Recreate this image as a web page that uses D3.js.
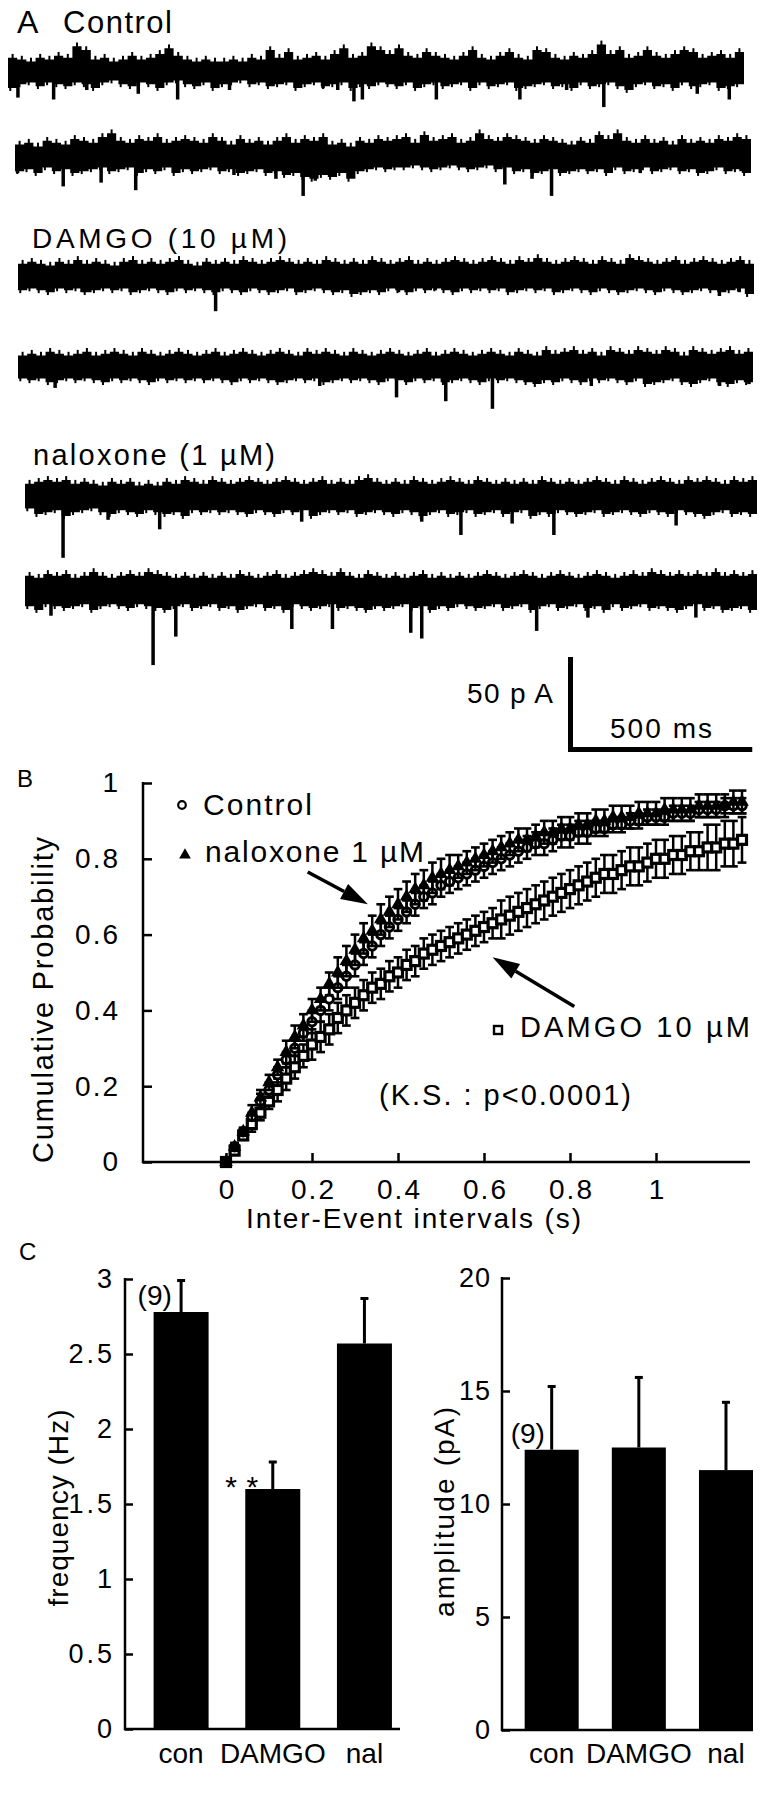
<!DOCTYPE html>
<html><head><meta charset="utf-8">
<script src="https://cdn.jsdelivr.net/npm/d3@7"></script>
<style>
body{margin:0;background:#fff}
svg{display:block}
text{font-family:"Liberation Sans",Arial,Helvetica,sans-serif;fill:#000}
</style>
</head><body>
<svg id="fig" width="769" height="1800"></svg>
<script>
// ---------------- DATA ----------------
// Panel A: sEPSC traces (2 s sweeps). Noise envelopes in pA (above / below baseline), events [ms, pA]
const traceDurationMs = 2000;
const ctl1Up   = [7,6,5,7,6,8,7,13,11,6, 7,5,6,8,6,7,9,12,8,6, 5,6,5,5,6,5,7,6,11,7, 10,6,7,8,6,9,12,7,8,13, 11,9,12,8,7,10,8,7,6,8, 11,7,6,8,10,7,6,11,10,7, 6,8,7,9,14,9,11,7,8,11, 8,7,9,11,10,7,8,9,7,10];
const ctl1Down = [9,7,6,8,6,7,8,6,7,9, 6,5,7,8,6,7,9,6,5,7, 8,6,9,7,6,5,7,6,8,7, 6,9,7,6,8,7,6,9,7,8, 6,7,8,6,9,7,6,8,7,6, 9,6,8,7,6,9,8,7,6,8, 7,9,6,8,7,6,8,10,7,6, 8,7,9,6,8,7,6,9,8,7];
const ctl1Events = [[27,14],[124,15],[214,10],[354,12],[461,15],[569,9],[602,10],[856,9],[896,10],[940,16],[963,15],[1164,15],[1391,15],[1518,10],[1619,19],[1873,12],[1960,15]];

const ctl2Up   = [6,7,5,8,7,6,9,8,7,10, 12,8,7,9,8,10,7,8,9,8, 7,10,8,6,9,7,8,6,8,10, 7,9,8,10,6,7,5,8,7,9, 8,9,10,7,11,8,9,10,7,8, 12,9,8,10,9,8,7,9,8,7, 6,8,7,11,9,12,8,7,9,7, 8,6,9,7,8,7,9,8,10,9];
const ctl2Down = [8,7,9,6,8,7,9,8,7,6, 8,7,6,9,7,8,6,9,7,8, 7,6,8,7,9,8,7,9,8,10, 9,11,12,10,11,9,12,8,7,6, 7,6,6,5,6,7,6,5,6,7, 6,5,7,6,8,7,9,8,7,9, 8,7,8,7,9,6,8,7,6,8, 7,6,8,7,9,8,6,8,7,9];
const ctl2Events = [[7,9],[131,16],[234,14],[328,18],[595,10],[709,12],[783,21],[816,13],[910,10],[1331,15],[1405,12],[1458,21],[1699,9],[1973,8]];

const dam1Up   = [7,8,7,6,8,7,9,7,8,7, 6,8,9,7,8,7,8,9,7,6, 8,7,8,7,9,8,7,8,9,8, 7,8,7,9,8,7,8,7,9,8, 7,8,9,7,8,7,8,9,8,7, 8,9,8,7,9,8,10,8,7,8, 9,8,7,9,8,7,10,9,8,7, 8,9,7,8,9,8,7,8,9,7];
const dam1Down = [7,6,7,8,6,7,6,8,7,6, 7,6,8,7,6,7,8,6,7,6, 7,8,6,7,8,6,7,8,7,6, 8,7,6,7,8,7,9,8,7,8, 6,7,8,6,7,6,7,8,6,7, 6,7,6,8,7,6,7,6,8,7, 6,7,8,6,7,8,7,6,7,8, 6,7,8,7,6,7,8,7,6,9];
const dam1Events = [[174,8],[537,18],[1034,8],[1134,7],[1906,10],[1960,8]];

const dam2Up   = [6,7,6,8,7,6,7,8,6,7, 8,7,6,8,7,6,7,8,7,6, 7,8,6,7,8,7,6,7,8,7, 6,8,7,8,7,6,8,7,6,7, 8,7,6,7,8,6,7,8,7,6, 7,8,7,6,8,7,6,9,7,8, 9,7,8,6,9,8,7,9,8,7, 9,8,6,9,8,7,8,9,7,8];
const dam2Down = [6,7,6,8,7,6,7,6,7,8, 6,7,6,7,8,6,7,6,7,6, 7,6,7,8,6,7,6,7,8,7, 6,7,6,8,7,6,7,6,7,8, 6,7,8,6,7,6,8,7,6,7, 8,6,7,6,7,8,9,7,8,6, 7,8,6,7,6,7,8,6,9,8, 7,6,8,9,7,6,8,9,7,8];
const dam2Events = [[101,11],[821,10],[1030,16],[1164,18],[1291,22],[1560,10],[1909,10],[1989,9]];

const nal1Up   = [7,8,9,8,9,7,8,7,6,8, 7,8,6,7,6,8,7,9,8,7, 9,8,7,8,9,8,7,8,9,8, 7,8,9,7,8,7,9,10,8,7, 8,7,9,8,7,8,9,8,7,9, 8,7,8,7,8,7,9,8,7,8, 7,8,9,8,7,9,8,7,8,9, 8,7,9,8,9,8,7,9,8,9];
const nal1Down = [6,9,8,7,10,8,7,6,8,9, 7,8,9,7,8,9,8,10,7,8, 7,8,7,8,9,7,8,9,7,8, 7,10,8,7,8,7,9,8,7,8, 9,7,8,10,8,7,9,8,7,9, 8,7,9,8,7,10,8,9,7,8, 9,8,7,9,8,7,8,9,7,8, 9,7,8,9,10,8,7,9,8,9];
const nal1Events = [[104,32],[227,12],[368,17],[756,13],[1084,13],[1191,20],[1331,14],[1445,20],[1779,15]];

const nal2Up   = [8,7,9,8,9,7,8,10,8,7, 8,9,8,10,9,8,7,8,7,8, 7,8,7,9,8,7,8,9,7,8, 9,10,9,8,10,8,7,9,8,7, 8,7,8,9,7,8,7,8,7,8, 9,8,7,8,9,8,7,8,9,8, 7,8,9,8,7,8,9,8,10,9, 8,9,8,9,8,10,8,9,8,9];
const nal2Down = [8,10,7,8,9,8,7,10,8,7, 8,9,7,8,9,10,8,7,9,8, 7,9,8,10,8,7,9,8,10,7, 8,9,8,7,9,8,9,10,8,9, 8,7,9,8,10,8,9,7,8,9, 8,7,9,8,7,10,8,7,9,8, 7,9,8,10,7,9,8,7,9,8, 9,10,8,7,9,8,10,9,8,10];
const nal2Events = [[71,13],[350,39],[412,24],[729,20],[840,20],[1054,22],[1084,25],[1398,21],[1538,14],[1833,14]];

const scaleBarPA = 50, scaleBarMs = 500;

// Panel B: cumulative probability of inter-event intervals
const ivTimes = [0,0.02,0.04,0.06,0.08,0.10,0.12,0.14,0.16,0.18,0.20,0.22,0.24,0.26,0.28,0.30,0.32,0.34,0.36,0.38,0.40,0.42,0.44,0.46,0.48,0.50,0.52,0.54,0.56,0.58,0.60,0.62,0.64,0.66,0.68,0.70,0.72,0.74,0.76,0.78,0.80,0.82,0.84,0.86,0.88,0.90,0.92,0.94,0.96,0.98,1.00,1.02,1.04,1.06,1.08,1.10,1.12,1.14,1.16,1.18,1.20];
const ctlCum = [0,0.04,0.08,0.12,0.16,0.19,0.23,0.27,0.30,0.34,0.37,0.40,0.43,0.46,0.49,0.52,0.55,0.57,0.60,0.62,0.64,0.66,0.68,0.70,0.71,0.73,0.74,0.75,0.76,0.77,0.78,0.79,0.80,0.81,0.82,0.83,0.84,0.84,0.85,0.86,0.86,0.87,0.87,0.88,0.88,0.89,0.89,0.90,0.90,0.91,0.91,0.91,0.92,0.92,0.92,0.93,0.93,0.93,0.94,0.94,0.94];
const nalCum = [0,0.04,0.08,0.13,0.17,0.21,0.25,0.29,0.33,0.36,0.40,0.43,0.47,0.50,0.53,0.56,0.59,0.61,0.64,0.66,0.68,0.70,0.72,0.73,0.75,0.76,0.77,0.78,0.79,0.80,0.81,0.82,0.83,0.84,0.85,0.85,0.86,0.87,0.87,0.88,0.88,0.89,0.89,0.90,0.90,0.91,0.91,0.91,0.92,0.92,0.92,0.93,0.93,0.93,0.93,0.94,0.94,0.94,0.94,0.95,0.95];
const damCum = [0,0.03,0.07,0.10,0.13,0.16,0.19,0.22,0.25,0.28,0.31,0.33,0.35,0.38,0.40,0.42,0.44,0.46,0.47,0.49,0.50,0.52,0.53,0.55,0.56,0.57,0.58,0.59,0.60,0.61,0.62,0.63,0.64,0.65,0.66,0.67,0.68,0.69,0.70,0.71,0.72,0.73,0.74,0.75,0.76,0.76,0.77,0.78,0.78,0.79,0.80,0.80,0.81,0.81,0.82,0.82,0.83,0.83,0.84,0.84,0.85];
const ctlErr = [0,0.01,0.01,0.01,0.02,0.02,0.02,0.02,0.02,0.02,0.03,0.03,0.03,0.03,0.03,0.03,0.03,0.03,0.03,0.03,0.03,0.03,0.03,0.03,0.03,0.03,0.03,0.03,0.03,0.03,0.03,0.03,0.03,0.03,0.03,0.03,0.03,0.03,0.03,0.03,0.03,0.03,0.03,0.02,0.02,0.02,0.02,0.02,0.02,0.02,0.02,0.02,0.02,0.02,0.02,0.02,0.02,0.02,0.02,0.02,0.02];
const nalErr = [0,0.01,0.01,0.02,0.02,0.02,0.02,0.03,0.03,0.03,0.03,0.03,0.03,0.04,0.04,0.04,0.04,0.04,0.04,0.04,0.04,0.04,0.04,0.04,0.04,0.04,0.04,0.03,0.03,0.03,0.03,0.03,0.03,0.03,0.03,0.03,0.03,0.03,0.03,0.03,0.03,0.03,0.03,0.03,0.03,0.03,0.03,0.03,0.03,0.03,0.03,0.03,0.03,0.03,0.03,0.03,0.03,0.03,0.03,0.03,0.03];
const damErr = [0,0.01,0.01,0.02,0.02,0.02,0.03,0.03,0.03,0.03,0.04,0.04,0.04,0.04,0.04,0.04,0.04,0.04,0.04,0.04,0.04,0.04,0.04,0.04,0.04,0.04,0.04,0.04,0.04,0.04,0.04,0.04,0.05,0.05,0.05,0.05,0.05,0.05,0.05,0.05,0.05,0.05,0.05,0.05,0.05,0.05,0.05,0.05,0.05,0.05,0.05,0.05,0.05,0.05,0.05,0.05,0.06,0.06,0.06,0.06,0.06];
const cumTicksY = [0,0.2,0.4,0.6,0.8,1];
const cumTicksX = [0,0.2,0.4,0.6,0.8,1];

// Panel C: bar charts
const categories = ["con","DAMGO","nal"];
const freqMean = [2.78,1.60,2.57];
const freqSem  = [0.21,0.18,0.30];
const ampMean  = [12.4,12.5,11.5];
const ampSem   = [2.8,3.1,3.0];
const freqTicks = [0,0.5,1,1.5,2,2.5,3];
const ampTicks = [0,5,10,15,20];

// ---------------- DRAW ----------------
const svg = d3.select("#fig");
const FONT = '"Liberation Sans",Arial,Helvetica,sans-serif';

function label(x, y, s, size, len, anchor, rot) {
  const t = svg.append("text").attr("font-size", size).text(s);
  if (rot) {
    t.attr("transform", `translate(${x},${y}) rotate(-90)`).attr("text-anchor", anchor || "middle");
  } else {
    t.attr("x", x).attr("y", y).attr("text-anchor", anchor || "start");
  }
  if (len) t.attr("textLength", len).attr("lengthAdjust", "spacing");
  return t;
}

// ----- Panel A -----
label(17, 33, "A", 32);
label(63, 33, "Control", 31, 109);
label(32, 248, "DAMGO (10 \u00b5M)", 28, 255);
label(33, 465, "naloxone (1 \u00b5M)", 29, 242);

const traces = [
  {up: ctl1Up, dn: ctl1Down, ev: ctl1Events, x0: 8,  x1: 744, cy: 71},
  {up: ctl2Up, dn: ctl2Down, ev: ctl2Events, x0: 15, x1: 751, cy: 156},
  {up: dam1Up, dn: dam1Down, ev: dam1Events, x0: 18, x1: 754, cy: 277},
  {up: dam2Up, dn: dam2Down, ev: dam2Events, x0: 18, x1: 753, cy: 367},
  {up: nal1Up, dn: nal1Down, ev: nal1Events, x0: 25, x1: 757, cy: 497},
  {up: nal2Up, dn: nal2Down, ev: nal2Events, x0: 25, x1: 757, cy: 591}
];
const pxPerPA = 1.9;
const noiseFloorPA = 5;
traces.forEach(tr => {
  const xs = d3.scaleLinear().domain([0, traceDurationMs]).range([tr.x0, tr.x1]);
  const ys = d3.scaleLinear().domain([-50, 0]).range([tr.cy + 50 * pxPerPA, tr.cy]);
  const n = tr.up.length;
  const pts = tr.up.map((u, i) => ({t: i * traceDurationMs / n, u: Math.max(u, noiseFloorPA), d: Math.max(tr.dn[i], noiseFloorPA)}));
  pts.push({t: traceDurationMs, u: pts[n - 1].u, d: pts[n - 1].d});
  const area = d3.area().x(d => xs(d.t)).y0(d => ys(-d.d)).y1(d => ys(d.u)).curve(d3.curveStepAfter);
  svg.append("path").attr("d", area(pts)).attr("fill", "#000");
  const g = svg.append("g");
  g.selectAll("rect.up").data(pts.slice(0, n)).join("rect")
    .attr("x", d => xs(d.t + traceDurationMs / n * 0.5) - 1)
    .attr("width", 2)
    .attr("y", d => ys(d.u + 2))
    .attr("height", d => ys(0) - ys(d.u + 2))
    .attr("fill", "#000");
  g.selectAll("rect.dn").data(pts.slice(0, n)).join("rect")
    .attr("x", d => xs(d.t + traceDurationMs / n * 0.25) - 1)
    .attr("width", 2)
    .attr("y", ys(0))
    .attr("height", d => ys(-d.d - 1.5) - ys(0))
    .attr("fill", "#000");
  g.selectAll("rect.ev").data(tr.ev).join("rect")
    .attr("x", d => xs(d[0]) - 1.75)
    .attr("width", 3.5)
    .attr("y", tr.cy)
    .attr("height", d => ys(-d[1]) - tr.cy)
    .attr("fill", "#000");
});

// scale bar
{
  const xsBar = d3.scaleLinear().domain([0, traceDurationMs]).range([568, 568 + 737]);
  const ysBar = d3.scaleLinear().domain([0, 50]).range([752, 752 - 50 * pxPerPA]);
  svg.append("line").attr("x1", 570.5).attr("x2", 570.5).attr("y1", ysBar(scaleBarPA)).attr("y2", ysBar(0))
    .attr("stroke", "#000").attr("stroke-width", 5);
  svg.append("line").attr("x1", xsBar(0)).attr("x2", xsBar(scaleBarMs)).attr("y1", 749.5).attr("y2", 749.5)
    .attr("stroke", "#000").attr("stroke-width", 5);
  label(467, 703, "50 p A", 28, 86);
  label(610, 738, "500 ms", 28, 102);
}

// ----- Panel B -----
label(17, 787, "B", 24);
const xB = d3.scaleLinear().domain([-0.2, 1.22]).range([140, 750.6]);
const yB = d3.scaleLinear().domain([0, 1]).range([1162, 783]);
{
  const gy = svg.append("g").attr("transform", `translate(143,0)`)
    .call(d3.axisLeft(yB).tickValues(cumTicksY).tickFormat(d3.format("~g")).tickSize(-9).tickPadding(23));
  const gx = svg.append("g").attr("transform", `translate(0,1162)`)
    .call(d3.axisBottom(xB).tickValues(cumTicksX).tickFormat(d3.format("~g")).tickSize(-9).tickPadding(17));
  [gy, gx].forEach(g => {
    g.select(".domain").remove();
    g.selectAll("line").attr("stroke", "#000").attr("stroke-width", 2.5);
    g.selectAll("text").attr("font-size", 28).attr("font-family", FONT).attr("fill", "#000").attr("letter-spacing", 2);
  });
  gx.selectAll("text").attr("dx", 1);
  svg.append("line").attr("x1", 143).attr("x2", 143).attr("y1", yB(1) - 1).attr("y2", yB(0) + 1.2)
    .attr("stroke", "#000").attr("stroke-width", 2.5);
  svg.append("line").attr("x1", 142).attr("x2", 750).attr("y1", 1162).attr("y2", 1162)
    .attr("stroke", "#000").attr("stroke-width", 2.5);
}
function drawCum(vals, errs, kind) {
  const g = svg.append("g");
  const data = ivTimes.map((t, i) => ({t: t, v: vals[i], e: errs[i]}));
  const cap = 4.4;
  data.forEach(d => {
    const x = xB(d.t), y1 = yB(d.v + d.e), y2 = yB(d.v - d.e);
    g.append("line").attr("x1", x).attr("x2", x).attr("y1", y1).attr("y2", y2).attr("stroke", "#000").attr("stroke-width", 2.5);
    g.append("line").attr("x1", x - cap).attr("x2", x + cap).attr("y1", y1).attr("y2", y1).attr("stroke", "#000").attr("stroke-width", 2.6);
    g.append("line").attr("x1", x - cap).attr("x2", x + cap).attr("y1", y2).attr("y2", y2).attr("stroke", "#000").attr("stroke-width", 2.6);
  });
  data.forEach(d => {
    const x = xB(d.t), y = yB(d.v);
    if (kind === "circle") {
      g.append("circle").attr("cx", x).attr("cy", y).attr("r", 4.2).attr("fill", "#fff").attr("stroke", "#000").attr("stroke-width", 3);
    } else if (kind === "square") {
      g.append("rect").attr("x", x - 4.5).attr("y", y - 4.5).attr("width", 9).attr("height", 9).attr("fill", "#fff").attr("stroke", "#000").attr("stroke-width", 3.2);
    } else {
      g.append("path").attr("d", d3.symbol(d3.symbolTriangle, 80)()).attr("transform", `translate(${x},${y})`).attr("fill", "#000");
    }
  });
}
drawCum(damCum, damErr, "square");
drawCum(ctlCum, ctlErr, "circle");
drawCum(nalCum, nalErr, "triangle");

// legend & annotations
svg.append("circle").attr("cx", 182).attr("cy", 805).attr("r", 3.8).attr("fill", "#fff").attr("stroke", "#000").attr("stroke-width", 2.2);
label(203, 815, "Control", 30, 109);
svg.append("path").attr("d", d3.symbol(d3.symbolTriangle, 60)()).attr("transform", "translate(185,855)").attr("fill", "#000");
label(205, 862, "naloxone 1 \u00b5M", 30, 219);
svg.append("rect").attr("x", 494).attr("y", 1026).attr("width", 8).attr("height", 8).attr("fill", "#fff").attr("stroke", "#000").attr("stroke-width", 2.4);
label(520, 1037, "DAMGO 10 \u00b5M", 29, 230);
label(379, 1105, "(K.S. : p<0.0001)", 29, 252);

function arrow(t0, p0, t1, p1) {
  const x0 = xB(t0), y0 = yB(p0), x1 = xB(t1), y1 = yB(p1);
  const dx = x1 - x0, dy = y1 - y0, L = Math.hypot(dx, dy), ux = dx / L, uy = dy / L;
  const hl = 27, hw = 8.5;
  const bx = x1 - ux * hl, by = y1 - uy * hl;
  svg.append("line").attr("x1", x0).attr("y1", y0).attr("x2", bx).attr("y2", by).attr("stroke", "#000").attr("stroke-width", 3.5);
  svg.append("path").attr("d", `M${x1},${y1}L${bx - uy * hw},${by + ux * hw}L${bx + uy * hw},${by - ux * hw}Z`).attr("fill", "#000");
}
arrow(0.19, 0.765, 0.33, 0.68);
arrow(0.81, 0.41, 0.62, 0.54);

label(53, 1000, "Cumulative Probability", 29, 326, "middle", true);
label(246, 1228, "Inter-Event intervals (s)", 28, 335);

// ----- Panel C -----
label(19, 1260, "C", 24);
function barChart(opt) {
  const y = d3.scaleLinear().domain(opt.domain).range([opt.y0, opt.y1]);
  const x = d3.scaleBand().domain(categories).range([opt.xl, opt.xr]).paddingInner(opt.pi).paddingOuter(opt.po).align(opt.align);
  const gy = svg.append("g").attr("transform", `translate(${opt.xl},0)`)
    .call(d3.axisLeft(y).tickValues(opt.ticks).tickFormat(d3.format("~g")).tickSize(-8).tickPadding(opt.pad));
  gy.select(".domain").remove();
  gy.selectAll("line").attr("stroke", "#000").attr("stroke-width", 2.5);
  gy.selectAll("text").attr("font-size", 27).attr("font-family", FONT).attr("fill", "#000").attr("letter-spacing", opt.ls);
  svg.append("line").attr("x1", opt.xl).attr("x2", opt.xl).attr("y1", opt.y1 - 1).attr("y2", opt.y0 + 1.2).attr("stroke", "#000").attr("stroke-width", 2.5);
  svg.append("line").attr("x1", opt.xl - 1).attr("x2", opt.xr).attr("y1", opt.y0).attr("y2", opt.y0).attr("stroke", "#000").attr("stroke-width", 2.5);
  const g = svg.append("g");
  categories.forEach((c, i) => {
    const cx = x(c) + x.bandwidth() / 2;
    g.append("line").attr("x1", cx).attr("x2", cx).attr("y1", y(opt.mean[i])).attr("y2", y(opt.mean[i] + opt.sem[i])).attr("stroke", "#000").attr("stroke-width", 3);
    g.append("line").attr("x1", cx - 4).attr("x2", cx + 4).attr("y1", y(opt.mean[i] + opt.sem[i])).attr("y2", y(opt.mean[i] + opt.sem[i])).attr("stroke", "#000").attr("stroke-width", 3);
    g.append("rect").attr("x", x(c)).attr("width", x.bandwidth()).attr("y", y(opt.mean[i])).attr("height", y(0) - y(opt.mean[i])).attr("fill", "#000");
    label(cx, 1763, c, 28, null, "middle");
  });
  return {x, y};
}
const fc = barChart({domain: [0, 3], y0: 1729, y1: 1279, xl: 125, xr: 400, pi: 0.4, po: 0.2, align: 0.78,
  ticks: freqTicks, pad: 10, ls: 3, mean: freqMean, sem: freqSem});
const ac = barChart({domain: [0, 20], y0: 1730, y1: 1278, xl: 502, xr: 753, pi: 0.38, po: 0.13, align: 1,
  ticks: ampTicks, pad: 11, ls: 1, mean: ampMean, sem: ampSem});

label(fc.x("con") - 16, 1305, "(9)", 28);
label(ac.x("con") - 14, 1443, "(9)", 28);
label(fc.x("DAMGO") - 20, 1497, "* *", 30, 33);
label(68, 1508, "frequency (Hz)", 28, 197, "middle", true);
label(454, 1512, "amplitude (pA)", 28, 210, "middle", true);
</script>
</body></html>
